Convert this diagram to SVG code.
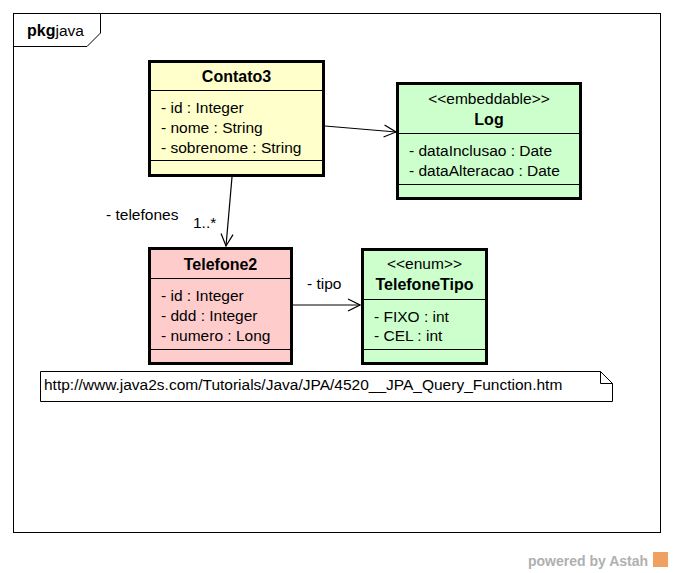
<svg xmlns="http://www.w3.org/2000/svg" width="673" height="573" viewBox="0 0 673 573">
<defs>
<style>
text{font-family:"Liberation Sans",Arial,sans-serif;font-size:15.5px;fill:#000}
.b{font-weight:bold;font-size:16px}
.c{text-anchor:middle}
.box{stroke:#000;stroke-width:3}
.sep{stroke:#000;stroke-width:1.2}
.ln{stroke:#000;stroke-width:1.2;fill:none}
</style>
<marker id="open" viewBox="0 0 14 14" refX="13" refY="7" markerWidth="14" markerHeight="14" markerUnits="userSpaceOnUse" orient="auto">
<path d="M1,1 L13,7 L1,13" fill="none" stroke="#000" stroke-width="1.2"/>
</marker>
</defs>
<rect width="673" height="573" fill="#fff"/>
<g id="frame">
<rect x="13.5" y="13.5" width="647" height="519" fill="none" stroke="#000" stroke-width="1"/>
<path d="M13.5,46.5 H87 L100.5,33 V13.5" fill="none" stroke="#000" stroke-width="1"/>
<text x="27" y="36"><tspan class="b">pkg</tspan>java</text>
</g>
<g id="connectors">
<line class="ln" x1="325" y1="126" x2="396" y2="132" marker-end="url(#open)"/>
<line class="ln" x1="232" y1="177" x2="226" y2="246" marker-end="url(#open)"/>
<line class="ln" x1="293" y1="305" x2="360" y2="305" marker-end="url(#open)"/>
<text x="106" y="220">- telefones</text>
<text x="193" y="228">1..*</text>
<text x="307" y="289">- tipo</text>
</g>
<g id="Contato3">
<rect class="box" x="149.5" y="61.5" width="174" height="114" fill="#ffffcc"/>
<line class="sep" x1="149" y1="90.5" x2="324" y2="90.5"/>
<line class="sep" x1="149" y1="160.5" x2="324" y2="160.5"/>
<text class="b c" x="236.5" y="82">Contato3</text>
<text x="161" y="113">- id : Integer</text>
<text x="161" y="133">- nome : String</text>
<text x="161" y="153">- sobrenome : String</text>
</g>
<g id="Log">
<rect class="box" x="397.5" y="83.5" width="183" height="115" fill="#ccffcc"/>
<line class="sep" x1="397" y1="133.5" x2="581" y2="133.5"/>
<line class="sep" x1="397" y1="184.5" x2="581" y2="184.5"/>
<text class="c" x="489" y="104">&lt;&lt;embeddable&gt;&gt;</text>
<text class="b c" x="489" y="125">Log</text>
<text x="409" y="156">- dataInclusao : Date</text>
<text x="409" y="176">- dataAlteracao : Date</text>
</g>
<g id="Telefone2">
<rect class="box" x="149.5" y="248.5" width="142" height="115" fill="#ffcccc"/>
<line class="sep" x1="149" y1="278.5" x2="292" y2="278.5"/>
<line class="sep" x1="149" y1="349.5" x2="292" y2="349.5"/>
<text class="b c" x="220.5" y="270">Telefone2</text>
<text x="161" y="301">- id : Integer</text>
<text x="161" y="321">- ddd : Integer</text>
<text x="161" y="341">- numero : Long</text>
</g>
<g id="TelefoneTipo">
<rect class="box" x="362.5" y="249.5" width="124" height="114" fill="#ccffcc"/>
<line class="sep" x1="362" y1="299.5" x2="487" y2="299.5"/>
<line class="sep" x1="362" y1="349.5" x2="487" y2="349.5"/>
<text class="c" x="424.5" y="269">&lt;&lt;enum&gt;&gt;</text>
<text class="b c" x="424.5" y="290">TelefoneTipo</text>
<text x="374" y="322">- FIXO : int</text>
<text x="374" y="341">- CEL : int</text>
</g>
<g id="note">
<path d="M40.5,371.5 H600.5 L612.5,383.5 V401.5 H40.5 Z" fill="#fff" stroke="#000" stroke-width="1"/>
<path d="M600.5,371.5 V383.5 H612.5" fill="none" stroke="#000" stroke-width="1"/>
<text x="44" y="390">http://www.java2s.com/Tutorials/Java/JPA/4520__JPA_Query_Function.htm</text>
</g>
<g id="powered">
<text x="528" y="566" style="font-size:14px;font-weight:bold;fill:#b0b0b0">powered by Astah</text>
<rect x="653" y="552" width="15" height="15" fill="#f0a060"/>
</g>
</svg>
